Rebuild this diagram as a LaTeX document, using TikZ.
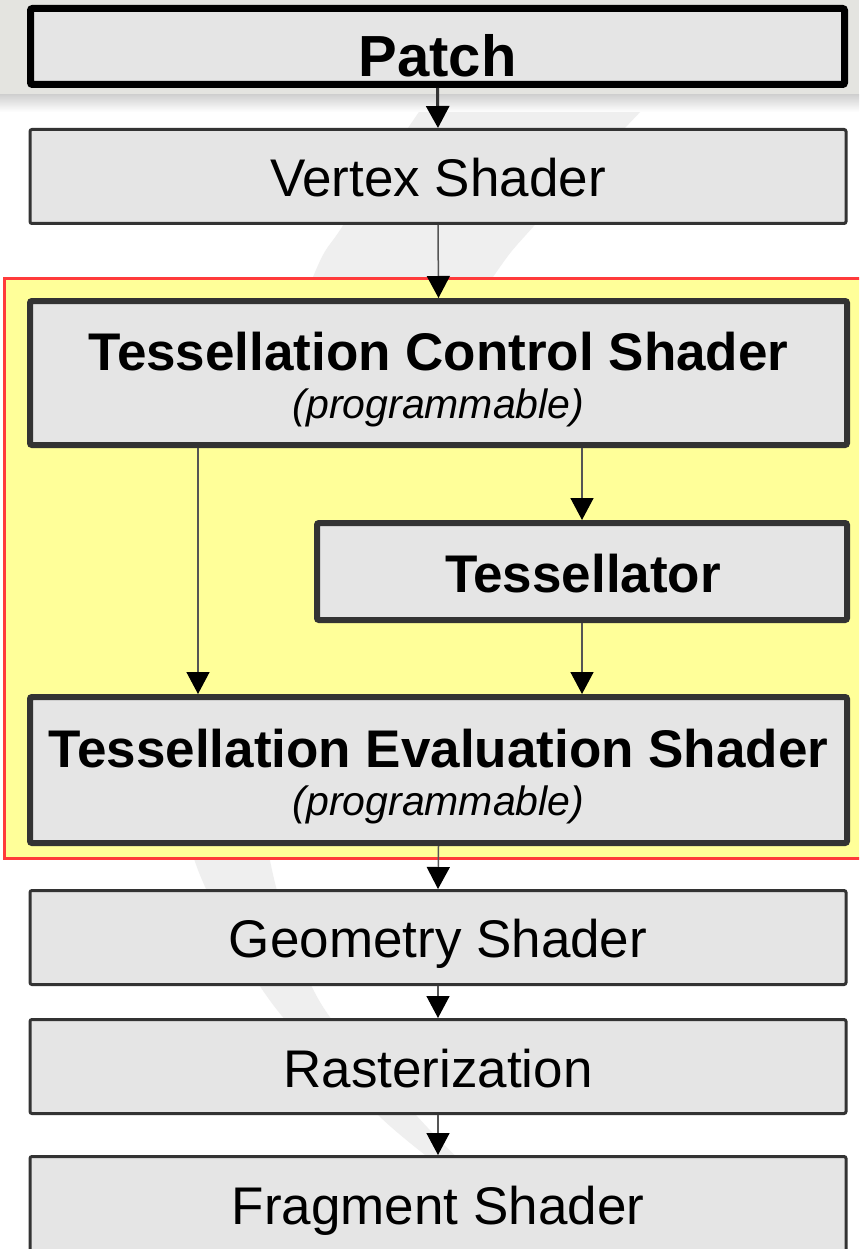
\documentclass[tikz,border=0pt]{standalone}
\usepackage{fontspec}
\setmainfont{Liberation Sans}
\usetikzlibrary{arrows.meta}
\definecolor{boxfill}{HTML}{E5E5E5}
\definecolor{boxline}{HTML}{333333}
\definecolor{bandgray}{HTML}{E4E4E0}
\definecolor{swooshgray}{HTML}{EFEFEF}
\definecolor{groupyellow}{HTML}{FFFF99}
\definecolor{groupred}{HTML}{FF3B3B}
\definecolor{arrowgray}{HTML}{555555}
\begin{document}
\begin{tikzpicture}[x=1pt,y=-1pt,
  stagebox/.style={draw=boxline, fill=boxfill, line width=3pt, rounded corners=2pt, inner sep=0pt, minimum width=816pt, minimum height=94pt},
  boldbox/.style={stagebox, line width=6pt, minimum width=817pt},
  stagetext/.style={anchor=base, inner sep=0pt, font=\fontsize{53}{60}\selectfont},
  boldtext/.style={stagetext, font=\fontsize{53}{60}\selectfont\bfseries},
  subtext/.style={anchor=base, inner sep=0pt, font=\fontsize{41}{48}\selectfont\itshape},
  flow/.style={draw=arrowgray, line width=1.5pt, -{Triangle[width=23pt,length=22pt,color=black]}},
  thickflow/.style={flow, draw=boxline, line width=3pt}]
\useasboundingbox (0,0) rectangle (859,1249);
\clip (0,0) rectangle (859,1249);
% background
\fill[white] (0,0) rectangle (859,1249);
\fill[swooshgray] plot[smooth, tension=0.55] coordinates {(455,60) (408,128) (342,227) (313,277) (250,450) (205,640) (190,790) (198,870) (271,1002) (378,1115) (445,1170)}
  -- plot[smooth, tension=0.55] coordinates {(470,1170) (416,1115) (320,1002) (272,870) (272,780) (320,600) (400,420) (493,277) (533,227) (625,128) (690,60)} -- cycle;
\fill[bandgray] (0,0) rectangle (859,95);
\shade[top color=black!18, bottom color=white] (0,95) rectangle (859,112);
% group
\node[draw=groupred, fill=groupyellow, line width=3pt, inner sep=0pt, minimum width=865pt, minimum height=580pt] (group) at (437.25,568.5) {};
% boxes
\node[stagebox, draw=black, line width=7pt, minimum width=814pt, minimum height=76pt] (patch) at (437.5,46.5) {};
\node[stagebox] (vertex) at (438,176.5) {};
\node[boldbox, minimum height=144pt] (tcs) at (438.5,373) {};
\node[boldbox, minimum width=530pt, minimum height=97pt] (tessel) at (582,571.5) {};
\node[boldbox, minimum height=146pt] (tes) at (438.5,770) {};
\node[stagebox] (geom) at (438,937.5) {};
\node[stagebox] (raster) at (438,1066.5) {};
\node[stagebox, minimum height=120pt] (frag) at (438,1216.5) {};
% labels
\node[boldtext, font=\fontsize{58}{64}\selectfont\bfseries] (patchlabel) at (437.5,77) {Patch};
\node[stagetext] (vertexlabel) at (438,197) {Vertex Shader};
\node[boldtext] (tcslabel) at (438.5,370) {Tessellation Control Shader};
\node[subtext] (tcssub) at (438.5,418) {(programmable)};
\node[boldtext] (tessellabel) at (583,592) {Tessellator};
\node[boldtext] (teslabel) at (438.5,767) {Tessellation Evaluation Shader};
\node[subtext] (tessub) at (438.5,815) {(programmable)};
\node[stagetext] (geomlabel) at (438,957) {Geometry Shader};
\node[stagetext] (rasterlabel) at (438,1087) {Rasterization};
\node[stagetext] (fraglabel) at (438,1224) {Fragment Shader};
% connectors
\coordinate (leftcol) at (198,0);
\draw[thickflow] (patch.south) -- (vertex.north);
\draw[flow] (vertex.south) -- (tcs.north);
\draw[flow] (tcs.south -| leftcol) -- (tes.north -| leftcol);
\draw[flow] (tcs.south -| tessel.north) -- (tessel.north);
\draw[flow] (tessel.south) -- (tes.north -| tessel.south);
\draw[flow] (tes.south) -- (geom.north);
\draw[flow] (geom.south) -- (raster.north);
\draw[flow] (raster.south) -- (frag.north);
\end{tikzpicture}
\end{document}
